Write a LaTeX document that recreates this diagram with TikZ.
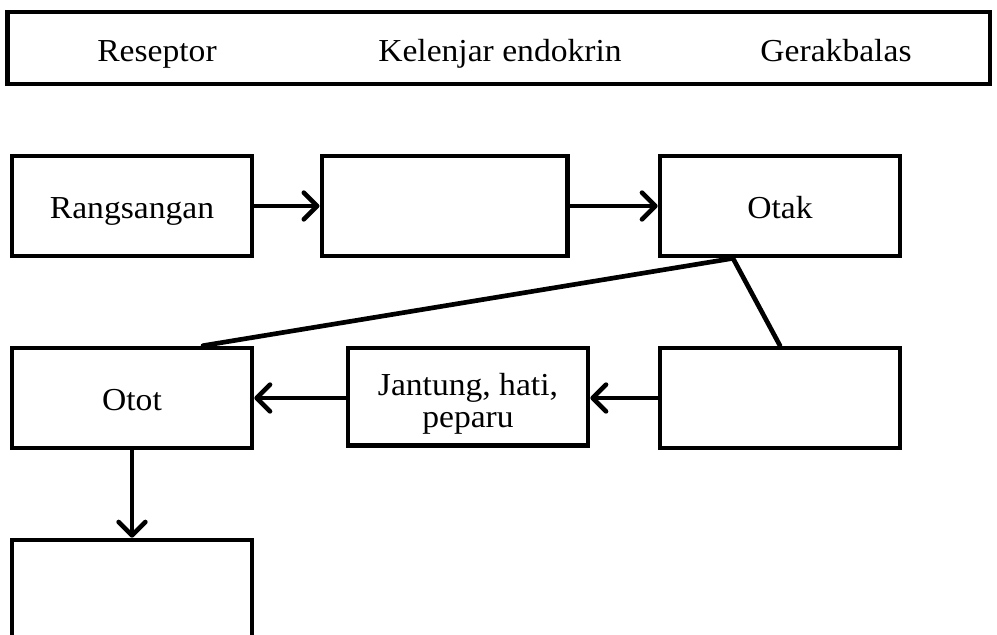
\documentclass[tikz,border=0pt]{standalone}
\usepackage{fontspec}
\setmainfont{Liberation Serif}[FakeStretch=1.05]
\usetikzlibrary{arrows.meta,calc}
\tikzset{
  box/.style={draw=black, line width=3.5pt, rectangle, fill=white, inner sep=0pt,
    minimum width=180pt, minimum height=75pt, align=center,
    font=\fontsize{24pt}{26pt}\selectfont},
  lbl/.style={inner sep=0pt, anchor=base, font=\fontsize{24pt}{26pt}\selectfont},
  conn/.style={line width=3.5pt, line cap=round},
  arr/.style={conn, -{Straight Barb[length=10pt, width=20pt, line width=3.5pt, round]}}
}
\begin{document}
\begin{tikzpicture}[x=0.75pt,y=-0.75pt]
\clip (0,0) rectangle (997,635);
\fill[white] (0,0) rectangle (997,635);
% top legend box
\node[box, minimum width=737pt, minimum height=54pt] (legend) at (498.5,48) {};
\node[lbl] (reseptor) at (157,62) {Reseptor};
\node[lbl] (kelenjar) at (500,62) {Kelenjar endokrin};
\node[lbl] (gerak) at (836,62) {Gerakbalas};
% row 1
\node[box] (rang) at (132,206) {};
\node[lbl] (rangtxt) at (132,218) {Rangsangan};
\node[box, minimum width=184pt] (b2) at (444.5,206) {};
\node[box] (otak) at (780,206) {};
\node[lbl] (otaktxt) at (780,218) {Otak};
% row 2
\node[box] (otot) at (132,398) {};
\node[lbl] (otottxt) at (132,410) {Otot};
\node[box, minimum height=73pt] (jant) at (468,396.5) {};
\node[lbl, align=center, anchor=center, font=\fontsize{24pt}{24pt}\selectfont] (janttxt) at (468,404) {Jantung, hati,\\peparu};
\node[box] (kanan) at (780,398) {};
% row 3
\node[box] (bawah) at (132,590) {};
% connectors
\coordinate (apex) at ($(otak.south)+(-47,0)$);
\coordinate (otottop) at ($(otot.north)+(71,0)$);
\draw[conn] (otottop) -- (apex) -- (kanan.north);
\draw[arr] (rang.east) -- (b2.west);
\draw[arr] (b2.east) -- (otak.west);
\draw[arr] (kanan.west) -- (kanan.west -| jant.east);
\draw[arr] (otot.east -| jant.west) -- (otot.east);
\draw[arr] (otot.south) -- (bawah.north);
\end{tikzpicture}
\end{document}
